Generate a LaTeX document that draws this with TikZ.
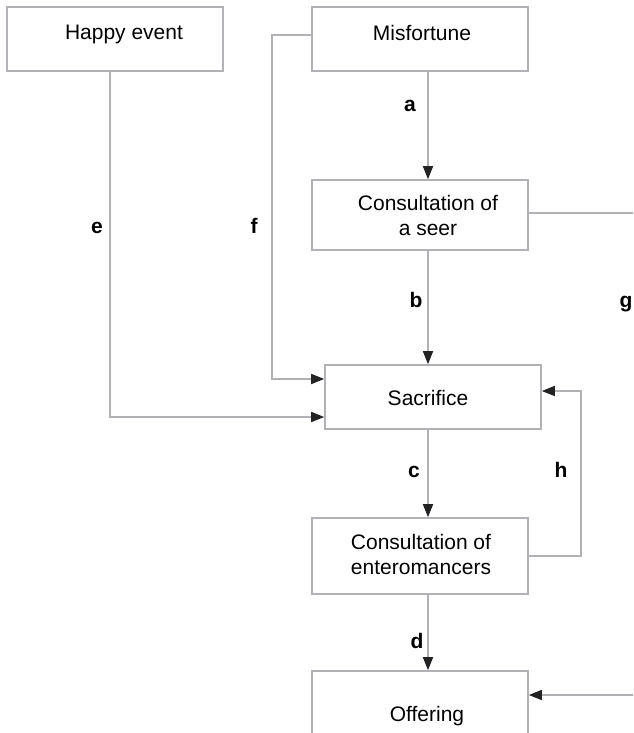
\documentclass[tikz,border=0pt]{standalone}
\usepackage{fontspec}
\setmainfont{Liberation Sans}
\usetikzlibrary{arrows.meta}
\definecolor{linegray}{RGB}{178,178,182}
\definecolor{tipgray}{RGB}{35,35,35}

\begin{document}
\begin{tikzpicture}[x=1pt,y=-1pt,
  box/.style={draw=linegray, line width=1.6pt, minimum width=216pt, inner sep=0pt},
  boxtext/.style={font=\fontsize{21}{25}\selectfont, align=center, anchor=base},
  link/.style={draw=linegray, line width=1.6pt},
  flow/.style={link, -{Triangle[length=13pt,width=10pt,color=tipgray]}},
  tag/.style={font=\fontsize{21}{25}\selectfont\bfseries, anchor=base}]
\useasboundingbox (0,0) rectangle (633,733);
\clip (0,0) rectangle (633,733);

%Shape: Rectangle
\node[box, minimum height=64pt] (happy) at (115,39) {};
\node[box, minimum height=64pt] (misfortune) at (420,39) {};
\node[box, minimum height=70pt] (seer) at (420,215) {};
\node[box, minimum height=64pt] (sacrifice) at (433,397) {};
\node[box, minimum height=76pt] (entero) at (420,556) {};
\node[box, minimum height=84pt] (offering) at (420,713) {};

%free ends on the right
\coordinate (gout) at (640,213);
\coordinate (gin) at (640,695);

%Straight Lines
\draw[flow] ([xshift=8pt]misfortune.south) -- ([xshift=8pt]seer.north);
\draw[flow] ([xshift=8pt]seer.south) -- ([xshift=-5pt]sacrifice.north);
\draw[flow] ([xshift=-5pt]sacrifice.south) -- ([xshift=8pt]entero.north);
\draw[flow] ([xshift=8pt]entero.south) -- ([xshift=8pt]offering.north);
\draw[flow] ([xshift=-5pt]happy.south) |- ([yshift=-20pt]sacrifice.west);
\draw[flow] ([yshift=4pt]misfortune.west) -- ++(-39,0) |- ([yshift=18pt]sacrifice.west);
\draw[link] ([yshift=2pt]seer.east) -- (gout);
\draw[flow] (entero.east) -- ++(52,0) |- ([yshift=6pt]sacrifice.east);
\draw[flow] (gin) -- (gin -| offering.east);

% Text Node
\node[boxtext] (happy-t) at (124,40) {Happy event};
\node[boxtext] (misfortune-t) at (422,41) {Misfortune};
\node[boxtext] (seer-t) at (428,235) {Consultation of\\a seer};
\node[boxtext] (sacrifice-t) at (428,405) {Sacrifice};
\node[boxtext] (entero-t) at (421,574) {Consultation of\\enteromancers};
\node[boxtext] (offering-t) at (427,721) {Offering};

% Text Node
\node[tag] (tag-a) at (410,112) {a};
\node[tag] (tag-b) at (416,307) {b};
\node[tag] (tag-c) at (414,477) {c};
\node[tag] (tag-d) at (417,648) {d};
\node[tag] (tag-e) at (97,233) {e};
\node[tag] (tag-f) at (254,233) {f};
\node[tag] (tag-g) at (626,307) {g};
\node[tag] (tag-h) at (561,477) {h};

\end{tikzpicture}
\end{document}
